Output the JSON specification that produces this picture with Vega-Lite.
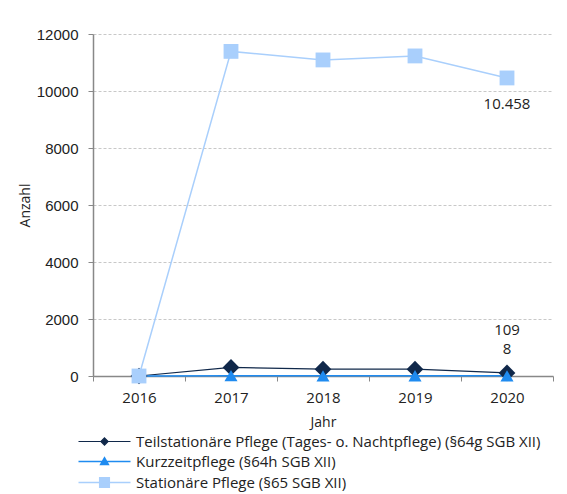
{
  "$schema": "https://vega.github.io/schema/vega-lite/v6.json",
  "width": 460,
  "height": 342,
  "autosize": {"type": "none"},
  "padding": {"left": 93, "top": 34, "right": 14, "bottom": 118},
  "background": "white",
  "config": {
    "view": {"stroke": null},
    "locale": {"number": {"decimal": ",", "thousands": ".", "grouping": [3], "currency": ["", " €"]}},
    "font": "Open Sans"
  },
  "data": {
    "values": [
      {"Jahr": "2016", "Art": "Teilstationäre Pflege (Tages- o. Nachtpflege) (§64g SGB XII)", "Anzahl": 0},
      {"Jahr": "2017", "Art": "Teilstationäre Pflege (Tages- o. Nachtpflege) (§64g SGB XII)", "Anzahl": 300},
      {"Jahr": "2018", "Art": "Teilstationäre Pflege (Tages- o. Nachtpflege) (§64g SGB XII)", "Anzahl": 240},
      {"Jahr": "2019", "Art": "Teilstationäre Pflege (Tages- o. Nachtpflege) (§64g SGB XII)", "Anzahl": 240},
      {"Jahr": "2020", "Art": "Teilstationäre Pflege (Tages- o. Nachtpflege) (§64g SGB XII)", "Anzahl": 109},
      {"Jahr": "2016", "Art": "Kurzzeitpflege (§64h SGB XII)", "Anzahl": 0},
      {"Jahr": "2017", "Art": "Kurzzeitpflege (§64h SGB XII)", "Anzahl": 10},
      {"Jahr": "2018", "Art": "Kurzzeitpflege (§64h SGB XII)", "Anzahl": 8},
      {"Jahr": "2019", "Art": "Kurzzeitpflege (§64h SGB XII)", "Anzahl": 9},
      {"Jahr": "2020", "Art": "Kurzzeitpflege (§64h SGB XII)", "Anzahl": 8},
      {"Jahr": "2016", "Art": "Stationäre Pflege (§65 SGB XII)", "Anzahl": 0},
      {"Jahr": "2017", "Art": "Stationäre Pflege (§65 SGB XII)", "Anzahl": 11390},
      {"Jahr": "2018", "Art": "Stationäre Pflege (§65 SGB XII)", "Anzahl": 11090},
      {"Jahr": "2019", "Art": "Stationäre Pflege (§65 SGB XII)", "Anzahl": 11230},
      {"Jahr": "2020", "Art": "Stationäre Pflege (§65 SGB XII)", "Anzahl": 10458}
    ]
  },
  "encoding": {
    "x": {
      "field": "Jahr", "type": "ordinal",
      "scale": {"type": "band", "paddingInner": 0, "paddingOuter": 0},
      "axis": {
        "title": "Jahr", "labelAngle": 0, "tickBand": "extent",
        "domainColor": "#888888", "tickColor": "#888888", "tickSize": 5, "domainWidth": 1.5,
        "labelFont": "Open Sans", "labelFontSize": 15, "labelColor": "#222222", "labelPadding": 9,
        "titleFont": "Open Sans", "titleFontSize": 14, "titleFontWeight": "normal", "titleColor": "#222222", "titlePadding": 10
      }
    },
    "y": {
      "field": "Anzahl", "type": "quantitative",
      "scale": {"domain": [0, 12000], "nice": false},
      "axis": {
        "title": "Anzahl", "values": [0, 2000, 4000, 6000, 8000, 10000, 12000], "format": "d",
        "domainColor": "#888888", "domainWidth": 1.5, "tickColor": "#888888", "tickSize": 5,
        "grid": true, "gridColor": "#c8c8c8", "gridDash": [3, 2], "gridWidth": 1,
        "labelFont": "Liberation Sans", "labelFontSize": 15, "labelColor": "#222222", "labelPadding": 10,
        "titleFont": "Open Sans", "titleFontSize": 14, "titleFontWeight": "normal", "titleColor": "#222222", "titlePadding": 4
      }
    },
    "color": {
      "field": "Art", "type": "nominal",
      "scale": {
        "domain": ["Teilstationäre Pflege (Tages- o. Nachtpflege) (§64g SGB XII)", "Kurzzeitpflege (§64h SGB XII)", "Stationäre Pflege (§65 SGB XII)"],
        "range": ["#10284a", "#1f8bf0", "#a9cffc"]
      },
      "legend": {
        "title": null, "orient": "none", "direction": "vertical",
        "legendX": 4, "legendY": 400,
        "symbolSize": 64, "symbolStrokeWidth": 1.2,
        "labelFont": "Open Sans", "labelFontSize": 15, "labelColor": "#222222", "labelOffset": 24,
        "rowPadding": 4, "padding": 0, "labelLimit": 600,
        "encode": {
          "symbols": {
            "update": {
              "shape": {"signal": "datum.index === 0 ? 'M-6.5,0H6.5M0,-0.9L0.9,0L0,0.9L-0.9,0Z' : datum.index === 1 ? 'M-6.5,0H6.5M0,-1L1,0.75H-1Z' : 'M-6.5,0H6.5M-1.2,-1.2H1.2V1.2H-1.2Z'"},
              "size": {"value": 64},
              "fill": {"scale": "color", "field": "value"},
              "stroke": {"scale": "color", "field": "value"},
              "opacity": {"value": 1}
            }
          }
        }
      }
    }
  },
  "layer": [
    {
      "mark": {"type": "line"},
      "encoding": {
        "strokeWidth": {
          "field": "Art", "type": "nominal",
          "scale": {
            "domain": ["Teilstationäre Pflege (Tages- o. Nachtpflege) (§64g SGB XII)", "Kurzzeitpflege (§64h SGB XII)", "Stationäre Pflege (§65 SGB XII)"],
            "range": [1.2, 1.5, 1.1]
          },
          "legend": null
        }
      }
    },
    {
      "transform": [{"filter": "datum.Art === 'Teilstationäre Pflege (Tages- o. Nachtpflege) (§64g SGB XII)'"}],
      "mark": {"type": "point", "filled": true, "opacity": 1, "shape": "diamond", "size": 280}
    },
    {
      "transform": [{"filter": "datum.Art === 'Kurzzeitpflege (§64h SGB XII)'"}],
      "mark": {"type": "point", "filled": true, "opacity": 1, "shape": "triangle-up", "size": 170}
    },
    {
      "transform": [{"filter": "datum.Art === 'Stationäre Pflege (§65 SGB XII)'"}],
      "mark": {"type": "point", "filled": true, "opacity": 1, "shape": "square", "size": 220}
    },
    {
      "transform": [{"filter": "datum.Jahr === '2020' && datum.Art === 'Stationäre Pflege (§65 SGB XII)'"}],
      "mark": {"type": "text", "dy": 26, "fontSize": 15, "font": "Open Sans", "color": "#222222"},
      "encoding": {"text": {"field": "Anzahl", "type": "quantitative", "format": ",d"}, "color": {"value": "#222222"}}
    },
    {
      "transform": [{"filter": "datum.Jahr === '2020' && datum.Art === 'Teilstationäre Pflege (Tages- o. Nachtpflege) (§64g SGB XII)'"}],
      "mark": {"type": "text", "dy": -43, "fontSize": 15, "font": "Open Sans", "color": "#222222"},
      "encoding": {"text": {"field": "Anzahl", "type": "quantitative", "format": ",d"}, "color": {"value": "#222222"}}
    },
    {
      "transform": [{"filter": "datum.Jahr === '2020' && datum.Art === 'Kurzzeitpflege (§64h SGB XII)'"}],
      "mark": {"type": "text", "dy": -27, "fontSize": 15, "font": "Open Sans", "color": "#222222"},
      "encoding": {"text": {"field": "Anzahl", "type": "quantitative", "format": ",d"}, "color": {"value": "#222222"}}
    }
  ]
}
